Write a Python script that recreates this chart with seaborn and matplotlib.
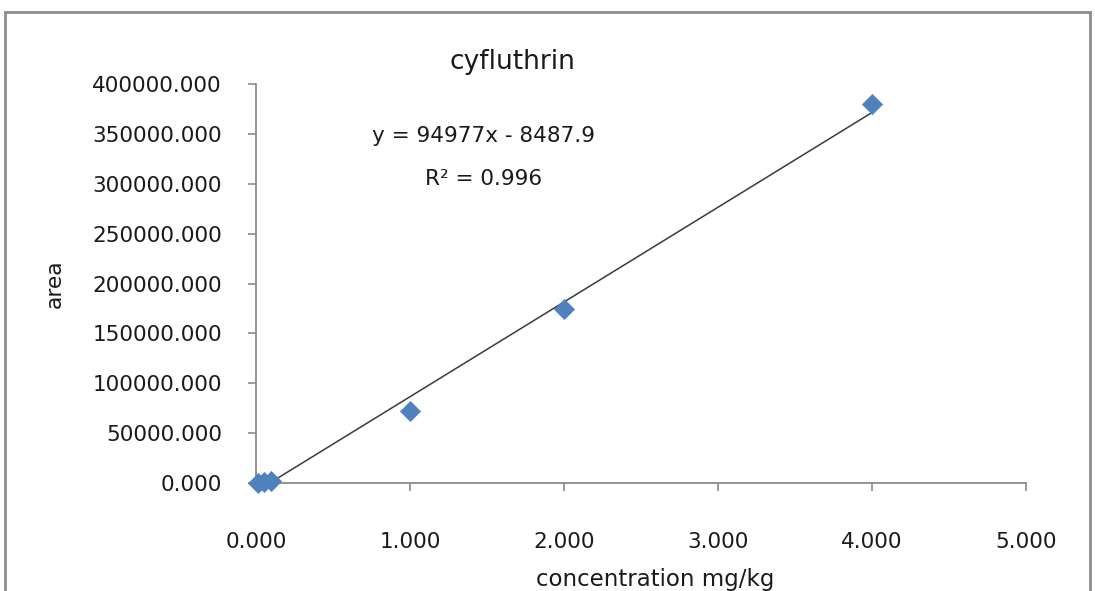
import matplotlib
matplotlib.use("Agg")
import matplotlib.pyplot as plt
from matplotlib.patches import Rectangle
from matplotlib.ticker import FormatStrFormatter
import numpy as np
import pandas as pd
import seaborn as sns

# Calibration standards for cyfluthrin
concentration = [0.01, 0.05, 0.1, 1.0, 2.0, 4.0]          # mg/kg
peak_area = [150, 900, 2500, 72000, 174200, 379500]

# Linear trendline as reported on the chart
slope = 94977
intercept = -8487.9
r_squared = 0.996

x_ticks = [0, 1, 2, 3, 4, 5]
y_ticks = [0, 50000, 100000, 150000, 200000, 250000, 300000, 350000, 400000]

sns.set_style("white")
plt.rcParams["font.family"] = ["DejaVu Sans"]

W, H = 1095, 591
fig = plt.figure(figsize=(W / 100, H / 100), dpi=100)
ax = fig.add_axes([256 / W, 1 - 483 / H, 770 / W, 399 / H])

df = pd.DataFrame({"concentration": concentration, "area": peak_area})

# Trendline across the measured concentration range
x_fit = np.array([min(concentration), max(concentration)])
fit = pd.DataFrame({"x": x_fit, "y": slope * x_fit + intercept})
sns.lineplot(data=fit, x="x", y="y", ax=ax, color="#3a3a3a", linewidth=1.1,
             zorder=2)

sns.scatterplot(data=df, x="concentration", y="area", ax=ax, marker="D",
                s=105, color="#4F81BD", edgecolor="#4F81BD", linewidth=0.5,
                zorder=3, clip_on=False)

ax.set_xlim(0, 5)
ax.set_ylim(0, 400000)
ax.set_xticks(x_ticks)
ax.set_yticks(y_ticks)
ax.xaxis.set_major_formatter(FormatStrFormatter("%.3f"))
ax.yaxis.set_major_formatter(FormatStrFormatter("%.3f"))

spine_color = "#8a8a8a"
for side in ("top", "right"):
    ax.spines[side].set_visible(False)
for side in ("left", "bottom"):
    ax.spines[side].set_color(spine_color)
    ax.spines[side].set_linewidth(1.3)

ax.tick_params(axis="both", which="major", direction="out", length=5.5,
               width=1.2, color=spine_color, labelsize=15.5,
               labelcolor="#1a1a1a")
ax.tick_params(axis="x", pad=29.5, bottom=True)
ax.tick_params(axis="y", pad=19, left=True)

ax.set_xlabel("concentration mg/kg", fontsize=16.5, color="#1a1a1a")
ax.xaxis.set_label_coords((655 - 256) / 770, -(568 - 483) / 399)
ax.set_ylabel("area", fontsize=15.7, color="#1a1a1a", va="center")
ax.yaxis.set_label_coords((55 - 256) / 770, 0.5)

ax.set_title("cyfluthrin", fontsize=19, color="#1a1a1a", pad=0,
             x=(512 - 256) / 770, y=(483 - 62) / 399, va="center")

ax.text((484 - 256) / 770, (483 - 136) / 399,
        f"y = {slope}x - {abs(intercept)}", transform=ax.transAxes,
        ha="center", va="center", fontsize=15.5, color="#1a1a1a")
ax.text((484 - 256) / 770, (483 - 179) / 399,
        f"R² = {r_squared}", transform=ax.transAxes,
        ha="center", va="center", fontsize=15.5, color="#1a1a1a")

# Chart area border
fig.patches.append(Rectangle((4.5 / W, -0.05), (1090 - 4.5) / W,
                             1 - 12 / H + 0.05, transform=fig.transFigure,
                             fill=False, edgecolor="#8c8c8c", linewidth=2))

fig.savefig("out.png", dpi=100)
